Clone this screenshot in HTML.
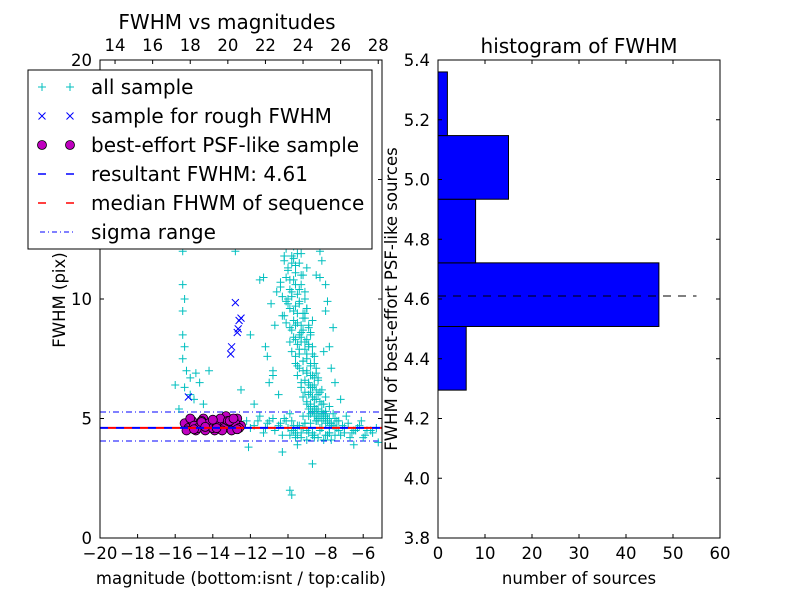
<!DOCTYPE html>
<html><head><meta charset="utf-8"><style>
body{margin:0;background:#fff;}
svg{display:block;font-family:"DejaVu Sans","Liberation Sans",sans-serif;}
</style></head><body>
<svg id="fig" width="800" height="600" viewBox="0 0 800 600">
<rect width="800" height="600" fill="#fff"/>
<g id="left"></g>
<g id="right"></g>
</svg>
<script>
// ---- scatter data ----
const allMag=[-10.2,-9.8,-9.5,-10.0,-9.3,-9.9,-10.4,-9.6,-9.1,-9.8,-10.1,-9.4,-9.0,-9.7,-10.3,-9.2,-9.5,-8.9,-9.9,-9.3,-8.8,-9.6,-9.1,-8.7,-9.4,-9.0,-8.6,-9.2,-8.8,-8.5,-9.0,-8.7,-8.4,-8.9,-8.6,-8.2,-8.8,-8.4,-8.0,-8.6,-8.2,-7.8,-8.5,-8.0,-7.6,-10.6,-9.2,-9.7,-8.5,-9.6,-9.0,-8.3,-9.4,-10.0,-9.1,-8.7,-9.3,-8.9,-8.1,-9.5,-8.5,-8.8,
-11.5,-12.0,-11.2,-10.8,-11.0,-12.5,-11.8,-10.5,-8.0,-7.8,-7.5,-7.2,-8.3,-8.5,-11.5,-10.8,-12.8,-11.3,
-15.7,-15.6,-15.5,-15.6,-15.6,-15.5,-15.6,-15.4,-15.2,-15.5,-15.2,-15.0,-14.7,-14.2,-14.5,-16.0,-15.8,-15.6,-14.9,
-12.2,-11.8,-11.5,-11.2,-11.0,-10.7,-10.4,-10.2,-10.0,-9.8,-9.6,-9.4,-9.2,-9.0,-8.8,-8.6,-8.4,-8.2,-8.0,-7.8,-7.6,-7.4,-7.2,-7.0,-6.8,-6.5,-6.2,-6.0,-5.8,-5.5,
-12.0,-11.6,-11.3,-11.1,-10.8,-10.5,-10.3,-10.1,-9.9,-9.7,-9.5,-9.3,-9.1,-8.9,-8.7,-8.5,-8.3,-8.1,-7.9,-7.7,-7.5,-7.3,-7.1,-6.9,-6.6,-6.3,-6.1,-5.9,-5.6,-5.3,
-9.9,-9.8,-8.7,-12.1,-6.5,-5.2,-7.5,-10.3,-9.5,
-10.3,-10.1,-9.9,-9.7,-9.5,-9.3,-10.2,-10.0,-9.8,-9.6,-9.4,-9.2,-10.4,-10.1,-9.9,-9.7,-9.5,-9.3,-9.1,-10.3,-10.0,-9.8,-9.6,-9.4,-9.2,-9.0,-10.2,-9.9,-9.7,-9.5,-9.3,-9.1,-8.9,-10.1,-9.8,-9.6,-9.4,-9.2,-9.0,-8.8,-9.9,-9.7,-9.5,-9.3,-9.1,-8.9,-8.7,-9.8,-9.6,-9.4,-9.2,-9.0,-8.8,-8.6,-9.6,-9.4,-9.2,-9.0,-8.8,-8.6,-8.4,-9.5,-9.3,-9.1,-8.9,-8.7,-8.5,-8.3,-9.3,-9.1,-8.9,-8.7,-8.5,-8.3,-8.1,-9.2,-9.0,-8.8,-8.6,-8.4,-8.2,-8.0,-9.0,-8.8,-8.6,-8.4,-8.2,-8.0,-7.8,-8.9,-8.7,-8.5,-8.3,-8.1,-7.9,-7.7,-8.8,-8.6,-8.4,-8.2,-8.0,-7.8,-7.5,
-9.9,-9.6,-9.3,-9.0,-8.7,-8.4,-8.1,-7.8,-9.8,-9.5,-9.2,-8.9,-8.6,-8.3,-8.0,-7.7,-7.4,-7.0,-6.7,-6.4,-9.7,-9.1,-8.5,-7.9,-7.3,
-10.9,-10.7,-11.1,-10.8,-10.6,-8.0,-7.9,-7.6,-8.2,-7.7];
const allFwhm=[11.8,11.5,11.9,11.2,11.0,10.8,10.5,10.6,10.3,10.1,9.9,9.8,9.6,9.5,9.3,9.2,9.0,8.9,8.8,8.6,8.5,8.3,8.2,8.0,7.9,7.7,7.6,7.4,7.3,7.1,7.0,6.8,6.7,6.5,6.4,6.2,6.1,6.0,5.9,5.8,5.6,5.5,5.4,5.3,5.2,12.3,12.5,12.2,12.8,11.4,11.3,10.9,10.4,10.0,9.4,9.1,8.4,8.1,7.8,7.2,6.9,6.3,
10.8,8.5,8.0,7.0,6.5,6.2,5.6,6.0,9.5,8.0,6.5,5.8,12.0,11.0,12.5,12.8,12.0,10.9,
13.0,10.6,10.0,9.5,8.5,8.0,7.5,7.0,6.7,6.3,6.0,5.8,6.5,7.0,5.6,6.4,5.4,12.0,6.9,
4.9,4.7,5.1,4.6,4.9,4.5,4.8,5.0,4.6,4.9,4.4,4.7,5.1,4.5,4.8,4.3,4.9,4.6,5.0,4.4,4.7,4.9,4.3,4.6,4.8,4.5,4.7,4.2,4.5,4.4,
4.6,4.9,4.4,4.8,5.0,4.7,4.3,4.9,5.2,4.5,4.7,4.2,4.8,5.1,4.4,4.9,4.6,5.2,4.3,4.8,5.0,4.5,4.7,5.1,4.4,4.6,4.9,4.3,4.5,4.6,
2.0,1.8,3.1,3.8,3.9,4.0,4.3,3.6,3.9,
12.4,12.1,12.6,11.7,12.3,11.9,11.6,11.3,11.8,11.1,11.5,11.0,10.7,10.9,10.4,10.8,10.2,10.6,10.0,10.1,9.8,10.3,9.7,9.9,9.4,9.6,9.3,9.6,9.1,9.4,8.9,9.2,8.8,9.0,8.7,8.9,8.5,8.7,8.3,8.6,8.2,8.4,8.1,8.2,7.9,8.0,7.7,7.8,7.6,7.7,7.4,7.5,7.2,7.3,7.3,7.1,7.0,6.9,6.8,6.7,6.6,6.8,6.5,6.6,6.4,6.3,6.2,6.1,6.3,6.1,6.0,5.9,5.8,5.7,5.6,5.9,5.7,5.6,5.5,5.4,5.3,5.2,5.6,5.5,5.4,5.3,5.2,5.1,5.0,5.4,5.3,5.2,5.1,5.0,4.9,4.8,5.2,5.1,5.0,4.9,4.8,4.7,4.6,
4.3,4.2,4.4,4.1,4.3,4.2,4.1,4.4,4.5,4.3,4.6,4.4,4.2,4.5,4.3,4.1,4.6,4.4,4.2,4.5,4.7,4.8,4.9,5.0,4.9,
9.8,8.9,7.6,6.8,10.3,10.6,9.9,8.8,11.6,7.1];
const roughMag=[-12.8,-12.6,-12.5,-12.65,-12.7,-13.0,-13.05,-15.3];
const roughFwhm=[9.85,9.1,9.2,8.75,8.6,8.0,7.7,5.9];
const psfMag=[-15.5,-15.3,-15.1,-14.9,-14.7,-14.5,-14.3,-14.1,-13.9,-13.7,-13.5,-13.3,-13.1,-12.9,-12.7,-12.5,-15.4,-15.2,-15.0,-14.8,-14.6,-14.4,-14.2,-14.0,-13.8,-13.6,-13.4,-13.2,-13.0,-12.8,-12.6,-15.0,-14.6,-14.0,-13.5,-13.1,-12.7,-14.4,-13.8,-12.9];
const psfFwhm=[4.8,4.6,4.9,4.5,4.7,5.0,4.6,4.8,4.5,4.9,4.7,5.1,4.6,4.8,5.0,4.7,4.5,5.0,4.7,4.6,4.9,4.5,4.8,4.6,4.7,5.0,4.6,4.9,4.5,4.8,4.6,4.55,4.85,4.95,4.5,4.9,4.55,4.65,4.6,5.0];
const resultFwhm=4.61, medianFwhm=4.61, sigmaLo=4.06, sigmaHi=5.27;
const xTicks=[-20,-18,-16,-14,-12,-10,-8,-6];
const xTickLabels=["\u221220","\u221218","\u221216","\u221214","\u221212","\u221210","\u22128","\u22126"];
const yTicks=[0,5,10,15,20];
const topTicks=[14,16,18,20,22,24,26,28];
const calibOffset=33.2;
// ---- histogram data ----
const binEdges=[4.295,4.508,4.721,4.934,5.147,5.36];
const binCounts=[6,47,8,15,2];
const hYTicks=[3.8,4.0,4.2,4.4,4.6,4.8,5.0,5.2,5.4];
const hXTicks=[0,10,20,30,40,50,60];
const hLineEnd=55;

const NS="http://www.w3.org/2000/svg";
const TS=16.5, AS=16.5, TT=20, LS=20;
function mk(parent,tag,attrs){const e=document.createElementNS(NS,tag);for(const k in attrs)e.setAttribute(k,attrs[k]);parent.appendChild(e);return e;}
function txt(parent,x,y,s,size,anchor,extra){const t=mk(parent,'text',Object.assign({x:x,y:y,'font-size':size,'text-anchor':anchor||'middle',fill:'#000'},extra||{}));t.textContent=s;return t;}

// left axes
const L={x0:100,x1:382,y0:60,y1:538};
const sx=v=>L.x0+(v+20)/15*(L.x1-L.x0);
const sy=v=>L.y1-v/20*(L.y1-L.y0);
const g=document.getElementById('left');
const clip=mk(g,'clipPath',{id:'lc'});mk(clip,'rect',{x:L.x0,y:L.y0,width:L.x1-L.x0,height:L.y1-L.y0});
const pg=mk(g,'g',{'clip-path':'url(#lc)'});
[sigmaLo,sigmaHi].forEach((v,i)=>{const l=mk(pg,'line',{x1:L.x0,x2:L.x1,y1:sy(v),y2:sy(v),stroke:'#00f','stroke-width':1,'stroke-dasharray':'6,3,1,3'});

});
for(let i=0;i<allMag.length;i++){const x=sx(allMag[i]),y=sy(allFwhm[i]);const p=mk(pg,'path',{d:`M${x-4},${y}h8M${x},${y-4}v8`,stroke:'#00bfbf','stroke-width':1});

}
for(let i=0;i<roughMag.length;i++){const x=sx(roughMag[i]),y=sy(roughFwhm[i]);const p=mk(pg,'path',{d:`M${x-3.5},${y-3.5}l7,7M${x-3.5},${y+3.5}l7,-7`,stroke:'#00f','stroke-width':1});

}
for(let i=0;i<psfMag.length;i++){const c=mk(pg,'circle',{cx:sx(psfMag[i]),cy:sy(psfFwhm[i]),r:4.5,fill:'#bf00bf',stroke:'#000','stroke-width':0.8});

}
const rl=mk(pg,'line',{x1:L.x0,x2:L.x1,y1:sy(resultFwhm),y2:sy(resultFwhm),stroke:'#00f','stroke-width':2,'stroke-dasharray':'8,8'});


const ml=mk(pg,'line',{x1:L.x0+8,x2:L.x1,y1:sy(medianFwhm),y2:sy(medianFwhm),stroke:'#f00','stroke-width':2,'stroke-dasharray':'8,8'});


mk(g,'rect',{x:L.x0,y:L.y0,width:L.x1-L.x0,height:L.y1-L.y0,fill:'none',stroke:'#000','stroke-width':1});
xTicks.forEach((v,i)=>{const x=sx(v);mk(g,'path',{d:`M${x},${L.y1}v-4`,stroke:'#000'});txt(g,x,L.y1+21,xTickLabels[i],TS);});
yTicks.forEach(v=>{const y=sy(v);mk(g,'path',{d:`M${L.x0},${y}h4M${L.x1},${y}h-4`,stroke:'#000'});txt(g,L.x0-8,y+6,String(v),TS,'end');});
topTicks.forEach(v=>{const x=sx(v-calibOffset);mk(g,'path',{d:`M${x},${L.y0}v4`,stroke:'#000'});txt(g,x,L.y0-9,String(v),TS);});
txt(g,227,29,'FWHM vs magnitudes',TT,'middle',{});
txt(g,241,584,'magnitude (bottom:isnt / top:calib)',AS,'middle',{});
txt(g,0,0,'FWHM (pix)',AS,'middle',{transform:'translate(65,300) rotate(-90)',});
// legend
const lg=mk(g,'g',{});
mk(lg,'rect',{x:28,y:70,width:344,height:179,fill:'#fff',stroke:'#000','stroke-width':1});
const labels=['all sample','sample for rough FWHM','best-effort PSF-like sample','resultant FWHM: 4.61','median FHWM of sequence','sigma range'];
labels.forEach((s,i)=>{const y=87+i*29;const e=mk(lg,'g',{});


if(i==0){[42,70].forEach(x=>mk(e,'path',{d:`M${x-4},${y}h8M${x},${y-4}v8`,stroke:'#00bfbf'}));}
if(i==1){[42,70].forEach(x=>mk(e,'path',{d:`M${x-3.5},${y-3.5}l7,7M${x-3.5},${y+3.5}l7,-7`,stroke:'#00f'}));}
if(i==2){[42,70].forEach(x=>mk(e,'circle',{cx:x,cy:y,r:4.5,fill:'#bf00bf',stroke:'#000','stroke-width':0.8}));}
if(i==3){mk(e,'line',{x1:38,x2:74,y1:y,y2:y,stroke:'#00f','stroke-width':1.5,'stroke-dasharray':'8,20'});}
if(i==4){mk(e,'line',{x1:38,x2:74,y1:y,y2:y,stroke:'#f00','stroke-width':1.5,'stroke-dasharray':'8,20'});}
if(i==5){mk(e,'line',{x1:40,x2:74,y1:y,y2:y,stroke:'#00f','stroke-width':1,'stroke-dasharray':'5,3,1,3'});}
txt(e,91,y+7,s,LS,'start');});

// right axes
const R={x0:438,x1:720,y0:60,y1:538};
const hx=v=>R.x0+v/60*(R.x1-R.x0);
const hy=v=>R.y1-(v-3.8)/1.6*(R.y1-R.y0);
const h=document.getElementById('right');
binCounts.forEach((c,i)=>{const r=mk(h,'rect',{x:hx(0),y:hy(binEdges[i+1]),width:hx(c)-hx(0),height:hy(binEdges[i])-hy(binEdges[i+1]),fill:'#00f',stroke:'#000','stroke-width':1});

});
const hl=mk(h,'line',{x1:hx(0),x2:hx(hLineEnd),y1:hy(resultFwhm),y2:hy(resultFwhm),stroke:'#000','stroke-width':1,'stroke-dasharray':'8,7'});


mk(h,'rect',{x:R.x0,y:R.y0,width:R.x1-R.x0,height:R.y1-R.y0,fill:'none',stroke:'#000'});
hXTicks.forEach(v=>{const x=hx(v);mk(h,'path',{d:`M${x},${R.y1}v-4M${x},${R.y0}v4`,stroke:'#000'});txt(h,x,R.y1+21,String(v),TS);});
hYTicks.forEach(v=>{const y=hy(v);mk(h,'path',{d:`M${R.x0},${y}h4M${R.x1},${y}h-4`,stroke:'#000'});txt(h,R.x0-8,y+6,v.toFixed(1),TS,'end');});
txt(h,579,53,'histogram of FWHM',TT,'middle',{});
txt(h,579,584,'number of sources',AS,'middle',{});
txt(h,0,0,'FWHM of best-effort PSF-like sources',AS,'middle',{transform:'translate(397,299) rotate(-90)',});
</script>
</body></html>
